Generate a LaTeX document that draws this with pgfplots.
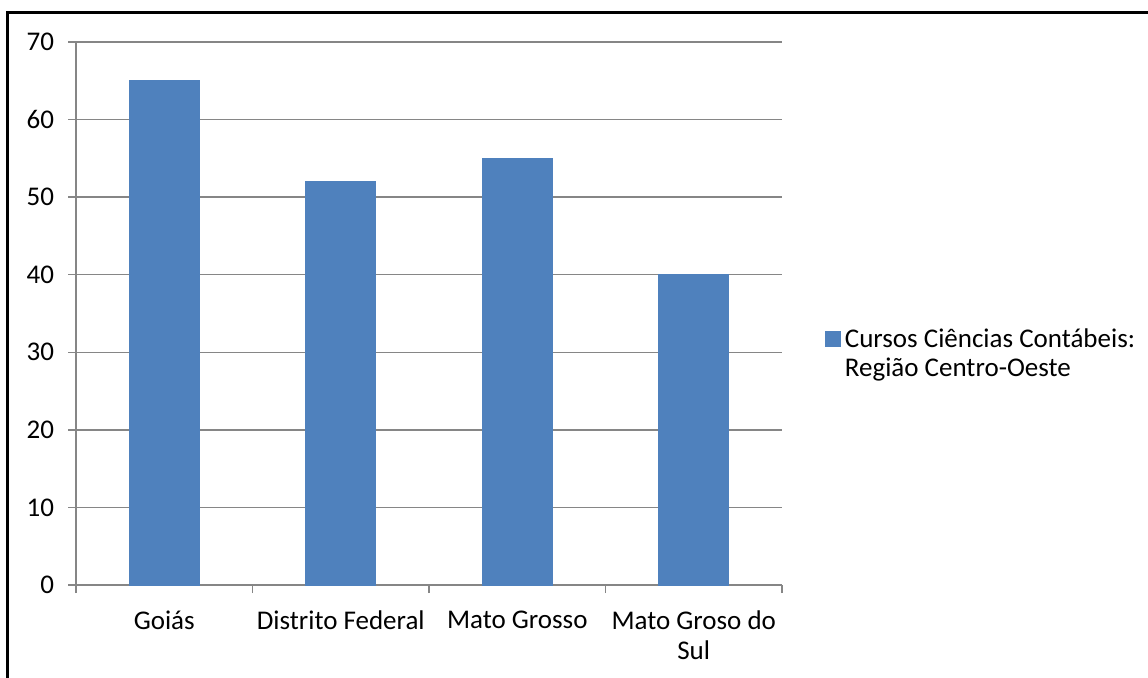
\documentclass[border=0pt]{standalone}
\usepackage{fontspec}
\setmainfont{Carlito}
\usepackage{pgfplots}
\pgfplotsset{compat=1.18}
\definecolor{barblue}{HTML}{4F81BD}
\definecolor{gridgray}{HTML}{868686}

\begin{document}
\begin{tikzpicture}
% fixed page: 1148x677 px at 0.5pt per px
\useasboundingbox (0,0) rectangle (574pt,338.5pt);
\draw[line width=1.5pt] (3.5pt,-1pt) -- (3.5pt,332.5pt) -- (575pt,332.5pt);

\begin{axis}[
    at={(38pt,46pt)}, anchor=south west,
    scale only axis,
    width=353pt, height=271.5pt,
    xmin=-0.5, xmax=3.5,
    ymin=0, ymax=70,
    ytick={0,10,...,70},
    xtick={0,1,2,3},
    xticklabels={Goiás, Distrito Federal, Mato Grosso, {Mato Groso do\\Sul}},
    ticklabel style={font=\fontsize{13.5}{15}\selectfont},
    xticklabel style={align=center, yshift=-5.5pt},
    minor xtick={-0.5,0.5,1.5,2.5,3.5},
    major x tick style={draw=none},
    tick align=outside,
    major tick length=4pt,
    minor tick length=4pt,
    tick style={gridgray, line width=0.75pt},
    axis lines*=left,
    axis line style={gridgray, line width=0.75pt},
    ymajorgrids,
    grid style={gridgray, line width=0.75pt},
    yticklabel style={xshift=-3.5pt},
    /pgf/number format/assume math mode=true,
    legend style={at={(1.052,0.426)}, anchor=west, draw=none, fill=none,
        font=\fontsize{13.5}{14.5}\selectfont, cells={align=left}},
    legend cell align=left,
    legend image code/.code={\fill[barblue] (0pt,3.5pt) rectangle (7.5pt,11pt);},
]
\addplot[ybar, bar width=35pt, fill=barblue, draw=barblue] coordinates {
    (0,65) (1,52) (2,55) (3,40)
};
\addlegendentry{Cursos Ciências Contábeis:\\Região Centro-Oeste}
\end{axis}
\end{tikzpicture}
\end{document}
